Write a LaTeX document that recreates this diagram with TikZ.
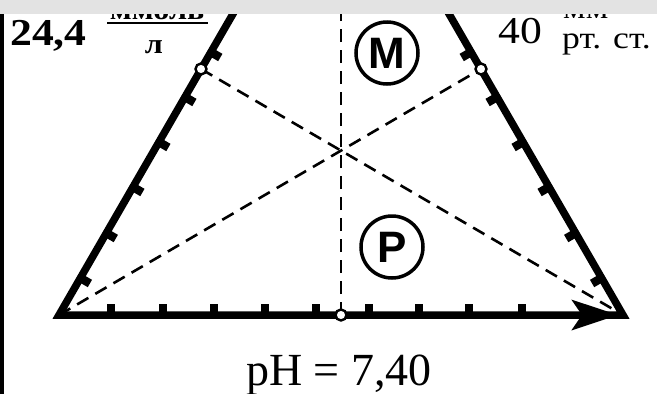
\documentclass[tikz,border=0pt]{standalone}
\usepackage{fontspec}
\setmainfont{Liberation Serif}
\newfontfamily\wideserif[FakeStretch=1.15]{Liberation Serif}
\newfontfamily\lsans{Liberation Sans}
\usetikzlibrary{arrows.meta,calc}
\definecolor{barg}{HTML}{E3E3E3}
\tikzset{
  sideline/.style={line width=7.5pt, line join=miter},
  axisline/.style={line width=6.5pt, -{Stealth[length=46pt, width=30pt, inset=10pt]}},
  tickmark/.style={line width=8.5pt},
  dashline/.style={line width=2.6pt, dash pattern=on 13pt off 8pt},
  dot/.style={circle, draw, fill=white, line width=2.4pt, inner sep=0pt, minimum size=11pt},
  letter/.style={circle, draw, line width=3.5pt, minimum size=62pt, inner sep=0pt,
    font=\lsans\bfseries\fontsize{44}{44}\selectfont},
  txt/.style={inner sep=0pt}
}
\begin{document}
\begin{tikzpicture}[x=1pt,y=-1pt]
\useasboundingbox (0,0) rectangle (657,394);
\fill[white] (0,0) rectangle (657,394);
% key points
\coordinate (BL) at (59,315);
\coordinate (BR) at (623,315);
\coordinate (AxEnd) at (618,315);
\coordinate (AxMid) at (600,315);
\coordinate (Ltop) at (241,0);
\coordinate (Rtop) at (441,0);
\coordinate (CL) at (201,69);
\coordinate (CR) at (481,69);
\coordinate (CB) at (341,315);
\coordinate (Vtop) at (341,0);
% dashed lines
\draw[dashline] (BL) -- (CR);
\draw[dashline] (CL) -- (BR);
\draw[dashline] (CB) -- (Vtop);
% ticks left side
\foreach \x/\y in {80.4/278, 106.3/233, 132.9/187, 158.9/142, 184.9/97, 210.8/52}
  \draw[tickmark] (\x,\y) -- ++(9.5,5.5);
% ticks right side
\foreach \x/\y in {601.6/278, 575.7/233, 549.1/187, 523.1/142, 497.1/97, 471.2/52}
  \draw[tickmark] (\x,\y) -- ++(-9.5,5.5);
% ticks bottom
\foreach \x in {111,163,214,265,316,369,419,469,522}
  \draw[tickmark] (\x,315) -- ++(0,-11);
% triangle sides and axis
\draw[sideline] (Ltop) -- (BL) -- (AxMid);
\draw[sideline] (Rtop) -- (BR) -- (AxMid);
\draw[axisline] (BL) -- (AxEnd);
% open dots
\node[dot] (dL) at (CL) {};
\node[dot] (dR) at (CR) {};
\node[dot] (dB) at (CB) {};
% circled letters
\node[letter] (M) at (387,53) {M};
\node[letter] (P) at (392,247) {P};
% labels
\node[txt, anchor=base west, font=\wideserif\bfseries\fontsize{38}{38}\selectfont] (t244) at (10,45) {24,4};
\node[txt, anchor=base, font=\wideserif\bfseries\fontsize{28}{28}\selectfont] (num) at (157,19) {ммоль};
\draw[line width=1.8pt] (107,23) -- (208,23);
\node[txt, anchor=base, font=\wideserif\bfseries\fontsize{28}{28}\selectfont] (den) at (154,53) {л};
\node[txt, anchor=base west, font=\wideserif\fontsize{38}{38}\selectfont] (t40) at (498,43) {40};
\node[txt, anchor=base west, font=\wideserif\fontsize{31}{31}\selectfont] (u1) at (563,18) {мм};
\node[txt, anchor=base west, font=\wideserif\fontsize{31}{31}\selectfont] (u2) at (562,48) {рт. ст.};
\node[txt, anchor=base, font=\fontsize{46}{46}\selectfont] (ph) at (339,385) {pH = 7,40};
% frame pieces
\fill[barg] (0,0) rectangle (657,14);
\fill[black] (0,14) rectangle (4,394);
\end{tikzpicture}
\end{document}
